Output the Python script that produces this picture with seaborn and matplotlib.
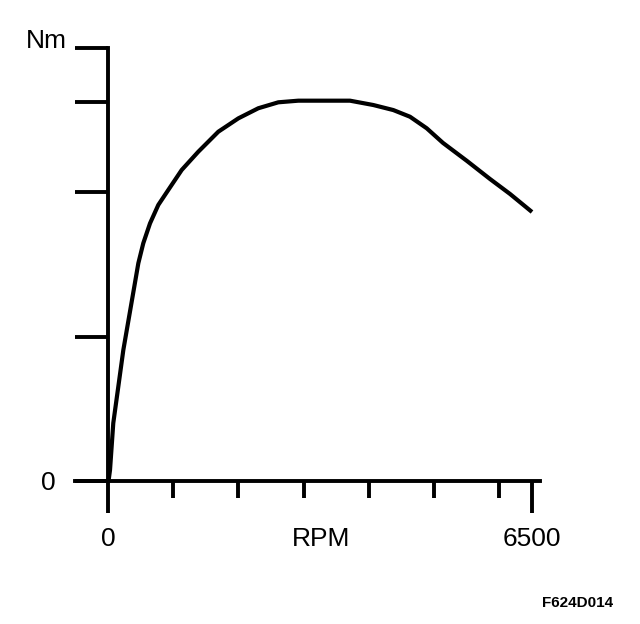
import matplotlib
matplotlib.use("Agg")
import matplotlib.pyplot as plt
import seaborn as sns

# curve (torque in arbitrary Nm units, 0..240 on the axis)
rpm = [8, 31, 81, 158, 235, 403, 465, 541, 644, 771, 924, 1130, 1384, 1691,
       1998, 2304, 2611, 2917, 3710, 4067, 4374, 4630, 4886, 5135, 5503,
       5856, 6163, 6500]
torque = [0, 6.1, 32.1, 52.3, 72.6, 107.7, 120.7, 131.8, 142.8, 153.0, 161.3,
          172.4, 182.5, 193.6, 201.0, 206.6, 209.9, 210.8, 210.8, 208.4, 205.6,
          201.9, 195.5, 187.4, 177.4, 167.4, 159.1, 149.1]

x_major = [0, 6500]
x_minor = [1000, 2000, 3000, 4000, 5000, 6000]
y_ticks = [0, 80, 160, 210, 240]
y_labels = ["0", "", "", "", ""]

sns.set_style("white")
plt.rcParams["font.family"] = ["Liberation Sans", "DejaVu Sans"]
plt.rcParams["text.color"] = "black"
plt.rcParams["axes.labelcolor"] = "black"
plt.rcParams["xtick.color"] = "black"
plt.rcParams["ytick.color"] = "black"

W, H = 640, 624
fig = plt.figure(figsize=(W / 100, H / 100), dpi=100)
# axes box spans the drawn x-axis (75..540 px) and y-axis (48..481 px)
ax = fig.add_axes([75 / W, (H - 481) / H, (540 - 75) / W, (481 - 48) / H])

px = 6500 / 424  # rpm per pixel
ax.set_xlim(-33 * px, 6500 + 8 * px)
ax.set_ylim(0, 240)

sns.lineplot(x=rpm, y=torque, ax=ax, color="black", linewidth=3.0,
             solid_capstyle="butt", solid_joinstyle="round", clip_on=False)

lw = 2.8
for s in ["top", "right"]:
    ax.spines[s].set_visible(False)
ax.spines["left"].set_position(("data", 0))
ax.spines["left"].set_bounds(0, 240)
ax.spines["bottom"].set_linewidth(lw)
ax.spines["left"].set_linewidth(lw)
ax.spines["bottom"].set_color("black")
ax.spines["left"].set_color("black")

ax.set_xticks(x_major)
ax.set_xticklabels(["0", "6500"])
ax.set_xticks(x_minor, minor=True)
ax.tick_params(axis="x", which="major", direction="out", length=23, width=lw,
               color="black", labelsize=19, pad=10, labelcolor="black")
ax.tick_params(axis="x", which="minor", direction="out", length=12, width=lw,
               color="black")
ax.tick_params(axis="x", which="both", bottom=True)

ax.set_yticks(y_ticks)
ax.set_yticklabels(y_labels)
ax.tick_params(axis="y", direction="out", length=24, width=lw, color="black",
               labelsize=19, pad=14, left=True, labelcolor="black")

ax.set_xlabel("RPM", fontsize=19, color="black")
ax.xaxis.set_label_coords((321 - 75) / (540 - 75), -(527 - 481) / (481 - 48))

ax.text(-41 * px, 240, "Nm", ha="right", va="baseline", fontsize=19,
        color="black")

fig.text(613 / W, 17 / H, "F624D014", ha="right", va="baseline",
         fontsize=11, fontweight="bold", color="black")

fig.savefig("out.png", dpi=100, facecolor="white")
